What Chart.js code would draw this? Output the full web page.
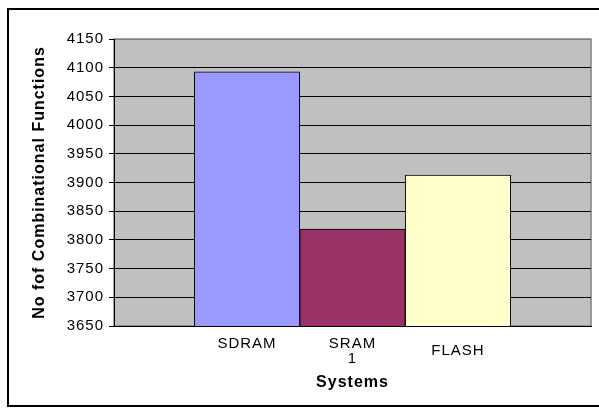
<!DOCTYPE html>
<html>
<head>
<meta charset="utf-8">
<script src="https://cdn.jsdelivr.net/npm/chart.js@4.4.1/dist/chart.umd.min.js"></script>
<style>
  html, body { margin: 0; padding: 0; background: #fff; overflow: hidden; }
  #wrap { position: relative; width: 599px; height: 414px; }
  #frame { position: absolute; left: 7px; top: 8px; width: 700px; height: 395px;
           border: 2px solid #000; pointer-events: none; }
  canvas { position: absolute; left: 0; top: 0; }
</style>
</head>
<body>
<div id="wrap">
  <canvas id="chart" width="599" height="414"></canvas>
  <div id="frame"></div>
</div>
<script>
// Systems and their combinational function counts
const systems = ['SDRAM', 'SRAM 1', 'FLASH'];
const combinationalFunctions = [4093, 3819, 3913];
const barColors = ['#9999FF', '#993366', '#FFFFCC'];
const yTicks = [3650, 3700, 3750, 3800, 3850, 3900, 3950, 4000, 4050, 4100, 4150];

const FONT = 'Arial, "Liberation Sans", sans-serif';

// grey plot area with a darker border
const plotBackground = {
  id: 'plotBackground',
  beforeUpdate(chart) { chart.ctx.letterSpacing = '1px'; },
  beforeDraw(chart) {
    const { ctx, chartArea: a } = chart;
    ctx.letterSpacing = '1px';
    ctx.save();
    ctx.fillStyle = '#C0C0C0';
    ctx.fillRect(a.left, a.top, a.right - a.left, a.bottom - a.top);
    ctx.strokeStyle = '#808080';
    ctx.lineWidth = 1.5;
    ctx.strokeRect(a.left, a.top, a.right - a.left, a.bottom - a.top);
    ctx.restore();
  }
};

new Chart(document.getElementById('chart'), {
  type: 'bar',
  data: {
    datasets: [{
      data: combinationalFunctions.map((v, i) => ({ x: i, y: v })),
      backgroundColor: barColors,
      borderColor: '#000',
      borderWidth: 1,
      borderSkipped: false,
      barPercentage: 1,
      categoryPercentage: 1
    }]
  },
  options: {
    responsive: false,
    animation: false,
    layout: { padding: { top: 39, right: 8, bottom: 0, left: 0 } },
    plugins: { legend: { display: false }, tooltip: { enabled: false } },
    scales: {
      x: {
        type: 'linear',
        offset: false,
        min: -1.261,
        max: 3.261,
        afterBuildTicks(scale) { scale.ticks = systems.map((_, i) => ({ value: i })); },
        afterFit(scale) { scale.height = 88; },
        grid: { display: false, offset: false },
        border: { display: true, color: '#000', width: 1 },
        ticks: {
          color: '#000',
          padding: 2,
          maxRotation: 0,
          autoSkip: false,
          font: (ctx) => ({ family: FONT, size: 15, lineHeight: ctx.index === 2 ? 29 / 15 : 1 }),
          callback: (v) => systems[v] ? systems[v].split(' ') : ''
        },
        title: {
          display: true,
          text: 'Systems',
          color: '#000',
          font: { family: FONT, size: 16, weight: 'bold' },
          padding: { top: 0, bottom: 22 }
        }
      },
      y: {
        min: 3650,
        max: 4150,
        afterBuildTicks(scale) { scale.ticks = yTicks.map(v => ({ value: v })); },
        afterFit(scale) { scale.width = 114; },
        grid: {
          color: (ctx) => (ctx.tick && ctx.tick.value === 4150) ? '#808080' : '#000',
          tickColor: '#000',
          tickLength: 5,
          lineWidth: 1
        },
        border: { display: true, color: '#000', width: 1 },
        ticks: {
          color: '#000',
          padding: 5,
          font: { family: FONT, size: 15 },
          callback: (v) => String(v)
        },
        title: {
          display: true,
          text: 'No fof Combinational Functions',
          color: '#000',
          font: { family: FONT, size: 16, weight: 'bold' },
          padding: { top: 30, bottom: 0 }
        }
      }
    }
  },
  plugins: [plotBackground]
});
</script>
</body>
</html>
